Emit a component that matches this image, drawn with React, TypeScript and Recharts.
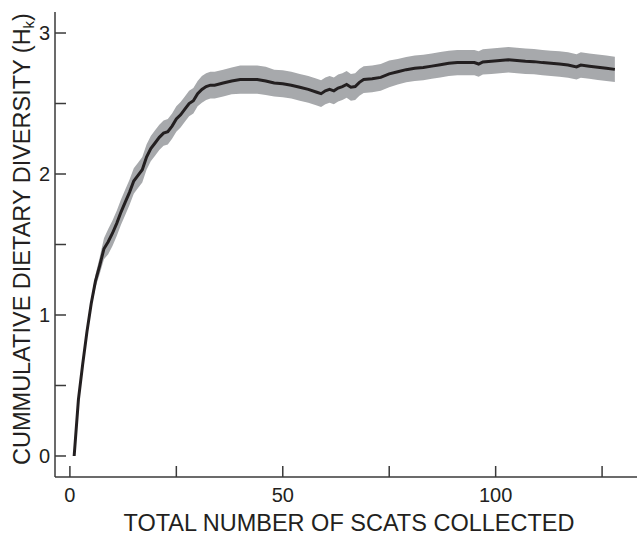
import React from 'react';
import { ComposedChart, Area, Line, XAxis, YAxis } from 'recharts';

// scats collected (x) and cumulative diversity Hk (y)
const SCATS = [
  1, 2, 3, 4, 5, 6, 7, 8, 9, 10, 11, 12, 13, 14, 15, 16, 17, 18, 19, 20,
  21, 22, 23, 24, 25, 26, 27, 28, 29, 30, 31, 32, 33, 34, 36, 38, 40, 42, 44, 46,
  48, 50, 52, 54, 56, 58, 59, 60, 61, 62, 63, 64, 65, 66, 67, 68, 69, 71, 73, 75,
  77, 79, 81, 83, 85, 87, 89, 91, 93, 95, 96, 97, 99, 101, 103, 105, 107, 109, 111, 113,
  115, 117, 119, 120, 122, 124, 126, 128,
];
const DIVERSITY = [
  0.0, 0.4, 0.65, 0.88, 1.08, 1.24, 1.35, 1.47, 1.52, 1.58, 1.65, 1.73, 1.8, 1.87, 1.95, 1.99, 2.03, 2.12, 2.18, 2.22,
  2.26, 2.29, 2.3, 2.34, 2.39, 2.42, 2.46, 2.5, 2.52, 2.57, 2.6, 2.62, 2.63, 2.63, 2.645, 2.66, 2.67, 2.67, 2.67, 2.66,
  2.645, 2.64, 2.63, 2.615, 2.6, 2.58, 2.57, 2.59, 2.6, 2.59, 2.61, 2.62, 2.635, 2.615, 2.62, 2.65, 2.67, 2.675, 2.685, 2.71,
  2.725, 2.74, 2.75, 2.755, 2.765, 2.775, 2.785, 2.79, 2.79, 2.79, 2.78, 2.795, 2.8, 2.805, 2.81, 2.805, 2.8, 2.797, 2.79, 2.785,
  2.78, 2.773, 2.76, 2.773, 2.765, 2.757, 2.75, 2.742,
];
// half width of the grey band
const SPREAD = [
  0, 0.005, 0.01, 0.02, 0.03, 0.045, 0.06, 0.075, 0.09, 0.09, 0.09, 0.09, 0.09, 0.09, 0.09, 0.09, 0.09, 0.09, 0.09, 0.09,
  0.09, 0.09, 0.09, 0.09, 0.09, 0.09, 0.09, 0.09, 0.09, 0.09, 0.095, 0.095, 0.095, 0.095, 0.095, 0.095, 0.1, 0.1, 0.1, 0.1,
  0.095, 0.095, 0.095, 0.095, 0.095, 0.095, 0.095, 0.095, 0.095, 0.095, 0.095, 0.095, 0.095, 0.095, 0.095, 0.095, 0.095, 0.095, 0.095, 0.095,
  0.09, 0.09, 0.09, 0.09, 0.09, 0.09, 0.09, 0.09, 0.09, 0.09, 0.09, 0.09, 0.09, 0.09, 0.09, 0.09, 0.09, 0.09, 0.09, 0.09,
  0.09, 0.09, 0.09, 0.09, 0.09, 0.09, 0.09, 0.09,
];

const X_TICKS = [0, 25, 50, 75, 100, 125];
const X_LABELS = ['0', '', '50', '', '100', ''];
const Y_TICKS = [0, 0.5, 1, 1.5, 2, 2.5, 3];
const Y_LABELS = ['0', '', '1', '', '2', '', '3'];

const data = SCATS.map((n, i) => ({
  n,
  h: DIVERSITY[i],
  band: [DIVERSITY[i] - SPREAD[i], DIVERSITY[i] + SPREAD[i]],
}));

const FONT = '"Liberation Sans", Arial, sans-serif';
const INK = '#231f20';
const AXIS = '#3a3a3a';

const YTitle = () => (
  <text
    x={30}
    y={239}
    transform="rotate(-90 30 239)"
    textAnchor="middle"
    fontSize={23.5}
    fontFamily={FONT}
    fill={INK}
  >
    CUMMULATIVE DIETARY DIVERSITY (H
    <tspan fontSize={15} dy={4}>k</tspan>
    <tspan dy={-4}>)</tspan>
  </text>
);

const XTitle = () => (
  <text x={349} y={531} textAnchor="middle" fontSize={23.5} fontFamily={FONT} fill={INK}>
    TOTAL NUMBER OF SCATS COLLECTED
  </text>
);

export default function App() {
  return (
    <div style={{ position: 'absolute', left: 0, top: 0, width: 637, height: 538, background: '#fff' }}>
      <ComposedChart
        width={637}
        height={538}
        data={data}
        margin={{ top: 12, right: 0, bottom: 0, left: 0 }}
      >
        <XAxis
          dataKey="n"
          type="number"
          domain={[-3.5, 133.2]}
          ticks={X_TICKS}
          tickFormatter={(v: number) => X_LABELS[X_TICKS.indexOf(v)] ?? ''}
          height={61}
          tickSize={-11}
          tickMargin={22}
          axisLine={{ stroke: AXIS, strokeWidth: 1.5 }}
          tickLine={{ stroke: AXIS, strokeWidth: 1.5 }}
          tick={{ fill: INK, fontSize: 20, fontFamily: FONT }}
          allowDataOverflow
          label={<XTitle />}
        />
        <XAxis
          xAxisId="top"
          orientation="top"
          type="number"
          domain={[-3.5, 133.2]}
          height={0}
          tick={false}
          tickLine={false}
          axisLine={{ stroke: AXIS, strokeWidth: 1.5 }}
        />
        <YAxis
          type="number"
          domain={[-0.149, 3.149]}
          ticks={Y_TICKS}
          tickFormatter={(v: number) => Y_LABELS[Y_TICKS.indexOf(v)] ?? ''}
          width={55}
          tickSize={-11}
          tickMargin={16}
          axisLine={{ stroke: AXIS, strokeWidth: 1.5 }}
          tickLine={{ stroke: AXIS, strokeWidth: 1.5 }}
          tick={{ fill: INK, fontSize: 20, fontFamily: FONT }}
          allowDataOverflow
          label={<YTitle />}
        />
        <Area
          type="linear"
          dataKey="band"
          stroke="none"
          fill="#a7a9ac"
          fillOpacity={1}
          isAnimationActive={false}
        />
        <Line
          type="linear"
          dataKey="h"
          stroke={INK}
          strokeWidth={3}
          dot={false}
          isAnimationActive={false}
        />
      </ComposedChart>
    </div>
  );
}
